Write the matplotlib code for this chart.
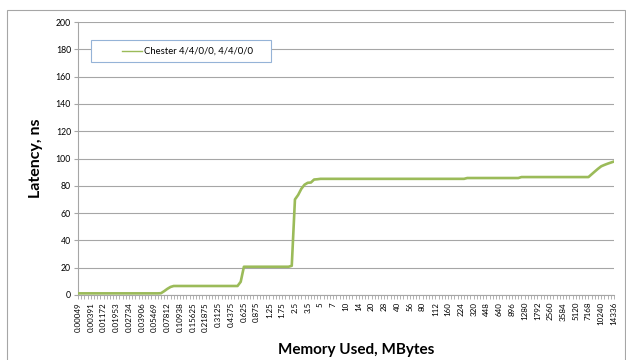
import matplotlib
matplotlib.use("Agg")
import matplotlib.pyplot as plt
import matplotlib.patches as mpatches
from matplotlib.lines import Line2D

plt.rcParams["font.family"] = ["Lato", "DejaVu Sans"]

# labelled categories (every 4th measured size, MBytes)
SIZE_LABELS = [
    "0.00049", "0.00391", "0.01172", "0.01953", "0.02734", "0.03906", "0.05469",
    "0.07812", "0.10938", "0.15625", "0.21875", "0.3125", "0.4375", "0.625",
    "0.875", "1.25", "1.75", "2.5", "3.5", "5", "7", "10", "14", "20", "28",
    "40", "56", "80", "112", "160", "224", "320", "448", "640", "896", "1280",
    "1792", "2560", "3584", "5120", "7168", "10240", "14336",
]
LABEL_EVERY = 4

# latency per measured size, ns (169 points)
LATENCY = [
    1.2, 1.2, 1.2, 1.2, 1.2, 1.2, 1.2, 1.2, 1.2, 1.2, 1.2, 1.2, 1.2,
    1.2, 1.2, 1.2, 1.2, 1.2, 1.2, 1.2, 1.2, 1.2, 1.2, 1.2, 1.2, 1.2,
    1.3, 2.8, 4.5, 5.9, 6.6,
    6.6, 6.6, 6.6, 6.6, 6.6, 6.6, 6.6, 6.6, 6.6, 6.6,
    6.6, 6.6, 6.6, 6.6, 6.6, 6.6, 6.6, 6.6, 6.6, 6.6,
    9.7, 20.7,
    20.7, 20.7, 20.7, 20.7, 20.7, 20.7, 20.7, 20.7, 20.7, 20.7, 20.7, 20.7, 20.7, 20.7,
    21.4, 70.0, 73.3, 77.8, 80.8, 82.2, 82.4, 84.6, 84.8, 85.1,
    85.1, 85.1, 85.1, 85.1, 85.1, 85.1, 85.1, 85.1, 85.1, 85.1,
    85.1, 85.1, 85.1, 85.1, 85.1, 85.1, 85.1, 85.1, 85.1, 85.1,
    85.1, 85.1, 85.1, 85.1, 85.1, 85.1, 85.1, 85.1, 85.1, 85.1,
    85.1, 85.1, 85.1, 85.1, 85.1, 85.1, 85.1, 85.1, 85.1, 85.1,
    85.1, 85.1, 85.1, 85.1, 85.1,
    85.7, 85.7, 85.7, 85.7, 85.7, 85.7, 85.7, 85.7, 85.7,
    85.7, 85.7, 85.7, 85.7, 85.7, 85.7, 85.7, 85.7,
    86.4, 86.4, 86.4, 86.4, 86.4, 86.4, 86.4, 86.4, 86.4, 86.4, 86.4,
    86.4, 86.4, 86.4, 86.4, 86.4, 86.4, 86.4, 86.4, 86.4, 86.4, 86.4,
    88.5, 90.5, 92.5, 94.3, 95.3, 96.2, 97.0, 97.8,
]
SERIES_NAME = "Chester 4/4/0/0, 4/4/0/0"
LINE_COLOR = "#9bbb59"

W, H = 626, 360
fig = plt.figure(figsize=(W / 100, H / 100), dpi=100)

# chart-area border (Excel style)
fig.patches.append(mpatches.Rectangle((7 / W, -0.1), 618 / W, 1.1 - 10 / H,
                                      transform=fig.transFigure, fill=False,
                                      edgecolor="#a6a6a6", linewidth=0.8))

ax = fig.add_axes([78 / W, 1 - 295 / H, 536 / W, 273 / H])
x = list(range(len(LATENCY)))
ax.plot(x, LATENCY, color=LINE_COLOR, linewidth=1.9, solid_joinstyle="round",
        zorder=3)

ax.set_xlim(0, len(LATENCY) - 1)
ax.set_ylim(0, 200)
ax.set_yticks(range(0, 201, 20))
ax.yaxis.grid(True, color="#a6a6a6", linewidth=0.8)
ax.set_axisbelow(True)

ax.set_xticks(x)
xlabels = [""] * len(x)
for i, lbl in enumerate(SIZE_LABELS):
    xlabels[i * LABEL_EVERY] = lbl
ax.set_xticklabels(xlabels, rotation=90, fontsize=5.8)
ax.tick_params(axis="x", length=3, width=0.6, color="#a6a6a6", pad=2)
ax.tick_params(axis="y", length=3, width=0.8, color="#a6a6a6", labelsize=6.3, pad=2)

for side in ("top", "right"):
    ax.spines[side].set_visible(False)
for side in ("left", "bottom"):
    ax.spines[side].set_color("#a6a6a6")
    ax.spines[side].set_linewidth(0.8)

ax.set_ylabel("Latency, ns", fontsize=11.5, fontweight="bold", labelpad=9)
ax.set_xlabel("Memory Used, MBytes", fontsize=11, fontweight="bold",
              va="center")
ax.xaxis.set_label_coords((356 - 78) / 536, (295 - 350) / 273)

# legend box drawn like the Excel one
fig.patches.append(mpatches.Rectangle((91 / W, 1 - 62 / H), 180 / W, 22 / H,
                                      transform=fig.transFigure, facecolor="white",
                                      edgecolor="#95b3d7", linewidth=0.8, zorder=5))
fig.lines.append(Line2D([122 / W, 142 / W], [1 - 51 / H, 1 - 51 / H],
                        transform=fig.transFigure, color=LINE_COLOR,
                        linewidth=1.0, zorder=6))
fig.text(144 / W, 1 - 51 / H, SERIES_NAME, fontsize=6.8, va="center", ha="left",
         zorder=6)

fig.savefig("out.png", dpi=100)
